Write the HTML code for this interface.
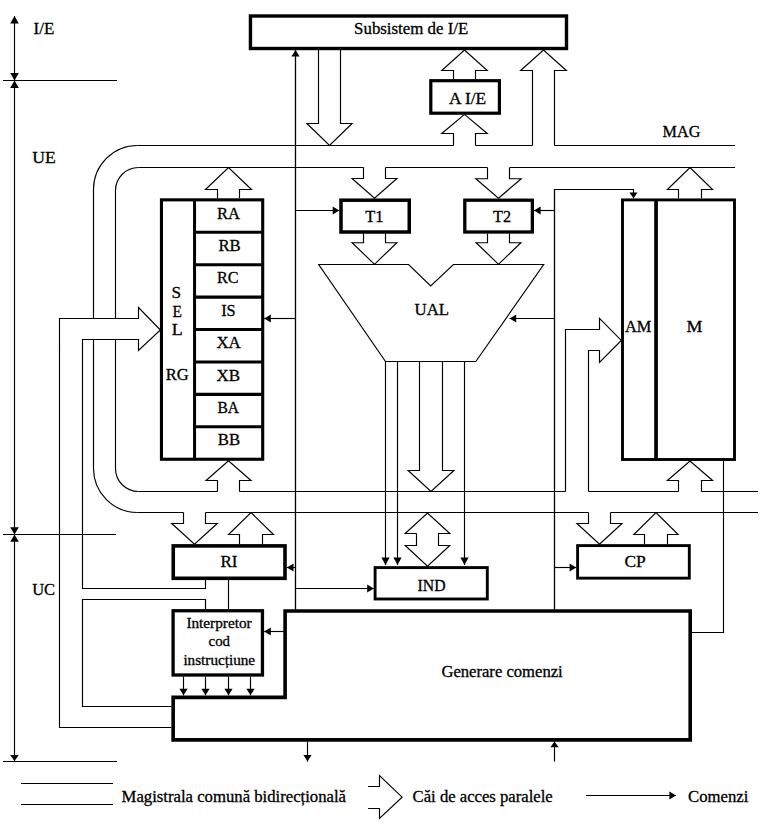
<!DOCTYPE html>
<html><head><meta charset="utf-8"><style>
html,body{margin:0;padding:0;background:#fff;}
svg{display:block;}
text{font-family:"Liberation Serif",serif;fill:#000;stroke:#000;stroke-width:0.3px;}
</style></head><body>
<svg width="766" height="826" viewBox="0 0 766 826">
<path d="M14.5,16 L14.5,761" fill="none" stroke="#000" stroke-width="1.15"/>
<polygon points="14.5,16 10.2,23.6 18.8,23.6" fill="#000"/>
<polygon points="14.5,80.5 10.2,73.1 18.8,73.1" fill="#000"/>
<polygon points="14.5,80.5 10.2,87.9 18.8,87.9" fill="#000"/>
<polygon points="14.5,534.5 10.2,527.3 18.8,527.3" fill="#000"/>
<polygon points="14.5,534.5 10.2,541.7 18.8,541.7" fill="#000"/>
<polygon points="14.5,761 10.2,755 18.8,755" fill="#000"/>
<path d="M3,80.5 L117,80.5" fill="none" stroke="#000" stroke-width="1.15"/>
<path d="M3,534.5 L116,534.5" fill="none" stroke="#000" stroke-width="1.15"/>
<path d="M3,761.5 L117,761.5" fill="none" stroke="#000" stroke-width="1.15"/>
<rect x="250.45" y="16" width="316.05" height="32.5" fill="none" stroke="#000" stroke-width="3.4"/>
<rect x="430.8" y="80.7" width="68.6" height="32.5" fill="none" stroke="#000" stroke-width="3.2"/>
<path d="M295.5,611 L295.5,50" fill="none" stroke="#000" stroke-width="1.15"/>
<polygon points="295.5,50 291.4,56.6 299.6,56.6" fill="#000"/>
<path d="M318.5,50 L318.5,123.5 L306.9,123.5 L329.5,145.5 L352.1,123.5 L340.5,123.5 L340.5,50" fill="none" stroke="#000" stroke-width="1.15"/>
<path d="M453.5,79.2 L453.5,70.5 L441.75,70.5 L464.5,50 L487.25,70.5 L475.5,70.5 L475.5,79.2" fill="none" stroke="#000" stroke-width="1.15"/>
<path d="M453.5,145.5 L453.5,133.5 L441.75,133.5 L464.5,114.4 L487.25,133.5 L475.5,133.5 L475.5,145.5" fill="none" stroke="#000" stroke-width="1.15"/>
<path d="M532.5,145.5 L532.5,70.5 L520.65,70.5 L543.5,50 L566.35,70.5 L554.5,70.5 L554.5,145.5" fill="none" stroke="#000" stroke-width="1.15"/>
<path d="M137.5,145.5 L453.5,145.5" fill="none" stroke="#000" stroke-width="1.15"/>
<path d="M475.5,145.5 L532.5,145.5" fill="none" stroke="#000" stroke-width="1.15"/>
<path d="M554.5,145.5 L735,145.5" fill="none" stroke="#000" stroke-width="1.15"/>
<path d="M137.5,145.5 A44,44 0 0 0 93.5,189.5 L93.5,318.5" fill="none" stroke="#000" stroke-width="1.15"/>
<path d="M93.5,339.5 L93.5,468 A44,44 0 0 0 137.5,512.5" fill="none" stroke="#000" stroke-width="1.15"/>
<path d="M138.5,167.5 A23,23 0 0 0 115.5,190.5 L115.5,318.5" fill="none" stroke="#000" stroke-width="1.15"/>
<path d="M115.5,339.5 L115.5,468.5 A23,23 0 0 0 138.5,491.5" fill="none" stroke="#000" stroke-width="1.15"/>
<path d="M138.5,167.5 L363.5,167.5" fill="none" stroke="#000" stroke-width="1.15"/>
<path d="M385.5,167.5 L487.5,167.5" fill="none" stroke="#000" stroke-width="1.15"/>
<path d="M509.5,167.5 L735,167.5" fill="none" stroke="#000" stroke-width="1.15"/>
<path d="M217.5,198.2 L217.5,189.5 L205.5,189.5 L228.5,167.5 L251.5,189.5 L239.5,189.5 L239.5,198.2" fill="none" stroke="#000" stroke-width="1.15"/>
<path d="M363.5,167.5 L363.5,178.5 L352.1,178.5 L374.5,198.3 L396.9,178.5 L385.5,178.5 L385.5,167.5" fill="none" stroke="#000" stroke-width="1.15"/>
<path d="M487.5,167.5 L487.5,178.7 L475.8,178.7 L498.5,198.3 L521.2,178.7 L509.5,178.7 L509.5,167.5" fill="none" stroke="#000" stroke-width="1.15"/>
<path d="M678.5,198.2 L678.5,189.5 L667.4,189.5 L690,167.5 L712.6,189.5 L701.5,189.5 L701.5,198.2" fill="none" stroke="#000" stroke-width="1.15"/>
<rect x="161.45" y="199.85" width="101.25" height="259.4" fill="none" stroke="#000" stroke-width="3.1"/>
<path d="M194.55,199.85 L194.55,459.25" fill="none" stroke="#000" stroke-width="3"/>
<path d="M194.55,232.27 L262.7,232.27" fill="none" stroke="#000" stroke-width="3.1"/>
<path d="M194.55,264.7 L262.7,264.7" fill="none" stroke="#000" stroke-width="3.1"/>
<path d="M194.55,297.12 L262.7,297.12" fill="none" stroke="#000" stroke-width="3.1"/>
<path d="M194.55,329.55 L262.7,329.55" fill="none" stroke="#000" stroke-width="3.1"/>
<path d="M194.55,361.98 L262.7,361.98" fill="none" stroke="#000" stroke-width="3.1"/>
<path d="M194.55,394.4 L262.7,394.4" fill="none" stroke="#000" stroke-width="3.1"/>
<path d="M194.55,426.82 L262.7,426.82" fill="none" stroke="#000" stroke-width="3.1"/>
<path d="M295.5,318.5 L264.2,318.5" fill="none" stroke="#000" stroke-width="1.15"/>
<polygon points="264.2,318.5 270.8,314.4 270.8,322.6" fill="#000"/>
<path d="M295.5,210.5 L339.3,210.5" fill="none" stroke="#000" stroke-width="1.15"/>
<polygon points="339.3,210.5 332.7,206.4 332.7,214.6" fill="#000"/>
<rect x="341" y="200.2" width="68.25" height="31.8" fill="none" stroke="#000" stroke-width="3.5"/>
<rect x="464.8" y="200.2" width="67.55" height="31.8" fill="none" stroke="#000" stroke-width="3.3"/>
<path d="M363.5,233.6 L363.5,242.7 L352.1,242.7 L374.5,264.3 L396.9,242.7 L385.5,242.7 L385.5,233.6" fill="none" stroke="#000" stroke-width="1.15"/>
<path d="M487.5,233.6 L487.5,242.7 L476.1,242.7 L498.5,264.3 L520.9,242.7 L509.5,242.7 L509.5,233.6" fill="none" stroke="#000" stroke-width="1.15"/>
<path d="M554.5,611 L554.5,189.5 L633.5,189.5 L633.5,198.2" fill="none" stroke="#000" stroke-width="1.15"/>
<polygon points="633.5,198.2 629.4,192.4 637.6,192.4" fill="#000"/>
<path d="M554.5,210.5 L534,210.5" fill="none" stroke="#000" stroke-width="1.15"/>
<polygon points="534,210.5 540.6,206.4 540.6,214.6" fill="#000"/>
<path d="M554.5,318.5 L509.6,318.5" fill="none" stroke="#000" stroke-width="1.15"/>
<polygon points="509.6,318.5 516.2,314.4 516.2,322.6" fill="#000"/>
<path d="M318.7,264.5 L408.6,264.5 L430.7,285.9 L453.4,264.5 L543.7,264.5 L475.8,361.5 L385.5,361.5 Z" fill="none" stroke="#000" stroke-width="1.15"/>
<path d="M385.5,361.5 L385.5,565" fill="none" stroke="#000" stroke-width="1.15"/>
<polygon points="385.5,565 381.4,557.5 389.6,557.5" fill="#000"/>
<path d="M397.5,361.5 L397.5,565" fill="none" stroke="#000" stroke-width="1.15"/>
<polygon points="397.5,565 393.4,557.5 401.6,557.5" fill="#000"/>
<path d="M464.5,361.5 L464.5,565" fill="none" stroke="#000" stroke-width="1.15"/>
<polygon points="464.5,565 460.4,557.5 468.6,557.5" fill="#000"/>
<path d="M419.5,361.5 L419.5,470.5 L408.1,470.5 L431,491.5 L453.9,470.5 L442.5,470.5 L442.5,361.5" fill="none" stroke="#000" stroke-width="1.15"/>
<rect x="622.5" y="199.9" width="112.0" height="259.6" fill="none" stroke="#000" stroke-width="2.9"/>
<path d="M656.05,199.9 L656.05,459.5" fill="none" stroke="#000" stroke-width="3.7"/>
<path d="M565.5,491.5 L565.5,329.5 L599.5,329.5 L599.5,318.3 L621.3,340.4 L599.5,362.4 L599.5,350.5 L588.5,350.5 L588.5,491.5" fill="none" stroke="#000" stroke-width="1.15"/>
<path d="M678.5,491.5 L678.5,480.5 L667.4,480.5 L690,461 L712.6,480.5 L701.5,480.5 L701.5,491.5" fill="none" stroke="#000" stroke-width="1.15"/>
<path d="M723.5,461 L723.5,632.5 L691.8,632.5" fill="none" stroke="#000" stroke-width="1.15"/>
<path d="M138.5,491.5 L217.5,491.5" fill="none" stroke="#000" stroke-width="1.15"/>
<path d="M239.5,491.5 L565.5,491.5" fill="none" stroke="#000" stroke-width="1.15"/>
<path d="M588.5,491.5 L678.5,491.5" fill="none" stroke="#000" stroke-width="1.15"/>
<path d="M701.5,491.5 L758,491.5" fill="none" stroke="#000" stroke-width="1.15"/>
<path d="M217.5,491.5 L217.5,480.5 L206.05,480.5 L228.5,460.8 L250.95,480.5 L239.5,480.5 L239.5,491.5" fill="none" stroke="#000" stroke-width="1.15"/>
<path d="M137.5,512.5 L183.5,512.5" fill="none" stroke="#000" stroke-width="1.15"/>
<path d="M205.5,512.5 L588.5,512.5" fill="none" stroke="#000" stroke-width="1.15"/>
<path d="M610.5,512.5 L758,512.5" fill="none" stroke="#000" stroke-width="1.15"/>
<path d="M183.5,512.5 L183.5,523.5 L171.75,523.5 L194.5,544.2 L217.25,523.5 L205.5,523.5 L205.5,512.5" fill="none" stroke="#000" stroke-width="1.15"/>
<path d="M239.5,544.2 L239.5,534.5 L228.55,534.5 L251,512.5 L273.45,534.5 L262.5,534.5 L262.5,544.2" fill="none" stroke="#000" stroke-width="1.15"/>
<path d="M588.5,512.5 L588.5,523.5 L576.95,523.5 L599.5,544.2 L622.05,523.5 L610.5,523.5 L610.5,512.5" fill="none" stroke="#000" stroke-width="1.15"/>
<path d="M644.5,544.2 L644.5,534.5 L633.9,534.5 L656,512.5 L678.1,534.5 L667.5,534.5 L667.5,544.2" fill="none" stroke="#000" stroke-width="1.15"/>
<path d="M416.5,533.5 L405.2,533.5 L427.5,513 L449.8,533.5 L438.5,533.5 L438.5,545.5 L449.8,545.5 L427.5,566.2 L405.2,545.5 L416.5,545.5 L416.5,533.5" fill="none" stroke="#000" stroke-width="1.15"/>
<rect x="173.25" y="545.9" width="111.75" height="32.4" fill="none" stroke="#000" stroke-width="3.6"/>
<path d="M295.5,567.5 L286.9,567.5" fill="none" stroke="#000" stroke-width="1.15"/>
<polygon points="286.9,567.5 293.5,563.4 293.5,571.6" fill="#000"/>
<path d="M205.5,580 L205.5,588.5 L82.5,588.5 L82.5,339.5 L138.5,339.5 L138.5,350.5 L160.4,330 L138.5,307.5 L138.5,318.5 L59.5,318.5 L59.5,727.5 L171.5,727.5" fill="none" stroke="#000" stroke-width="1.15"/>
<path d="M228.5,580 L228.5,609.3" fill="none" stroke="#000" stroke-width="1.15"/>
<path d="M205.5,609.3 L205.5,599.5 L82.5,599.5 L82.5,706.5 L171.5,706.5" fill="none" stroke="#000" stroke-width="1.15"/>
<rect x="375.1" y="567.6" width="112.2" height="31.4" fill="none" stroke="#000" stroke-width="2.9"/>
<path d="M295.5,588.5 L373.8,588.5" fill="none" stroke="#000" stroke-width="1.15"/>
<polygon points="373.8,588.5 367.2,584.4 367.2,592.6" fill="#000"/>
<rect x="173.1" y="610.75" width="89.35" height="64.25" fill="none" stroke="#000" stroke-width="3.3"/>
<path d="M285,631.5 L264.2,631.5" fill="none" stroke="#000" stroke-width="1.15"/>
<polygon points="264.2,631.5 270.8,627.4 270.8,635.6" fill="#000"/>
<path d="M183.5,676.6 L183.5,695.3" fill="none" stroke="#000" stroke-width="1.15"/>
<polygon points="183.5,695.3 179.4,688.7 187.6,688.7" fill="#000"/>
<path d="M205.5,676.6 L205.5,695.3" fill="none" stroke="#000" stroke-width="1.15"/>
<polygon points="205.5,695.3 201.4,688.7 209.6,688.7" fill="#000"/>
<path d="M228.5,676.6 L228.5,695.3" fill="none" stroke="#000" stroke-width="1.15"/>
<polygon points="228.5,695.3 224.4,688.7 232.6,688.7" fill="#000"/>
<path d="M250.5,676.6 L250.5,695.3" fill="none" stroke="#000" stroke-width="1.15"/>
<polygon points="250.5,695.3 246.4,688.7 254.6,688.7" fill="#000"/>
<path d="M173.15,697.35 L285.1,697.35 L285.1,611 L690.2,611 L690.2,739.85 L173.15,739.85 Z" fill="none" stroke="#000" stroke-width="3.6"/>
<path d="M295.5,48 L295.5,609.3" fill="none" stroke="#000" stroke-width="1.15"/>
<path d="M554.5,189.5 L554.5,609.3" fill="none" stroke="#000" stroke-width="1.15"/>
<path d="M307.5,741.6 L307.5,761.6" fill="none" stroke="#000" stroke-width="1.15"/>
<polygon points="307.5,761.6 303.4,755.1 311.6,755.1" fill="#000"/>
<path d="M554.5,761.6 L554.5,741.6" fill="none" stroke="#000" stroke-width="1.15"/>
<polygon points="554.5,741.6 550.4,747.2 558.6,747.2" fill="#000"/>
<path d="M554.5,567.5 L576.2,567.5" fill="none" stroke="#000" stroke-width="1.15"/>
<polygon points="576.2,567.5 569.6,563.4 569.6,571.6" fill="#000"/>
<rect x="577.6" y="545.6" width="111.7" height="32.55" fill="none" stroke="#000" stroke-width="2.9"/>
<path d="M21,783.5 L113,783.5" fill="none" stroke="#000" stroke-width="1.15"/>
<path d="M21,804.5 L113,804.5" fill="none" stroke="#000" stroke-width="1.15"/>
<path d="M368.1,786.5 L379.5,786.5 L379.5,775.6 L402.1,797.2 L379.5,818.4 L379.5,808.5 L368.1,808.5" fill="none" stroke="#000" stroke-width="1.15"/>
<path d="M586,795.5 L676,795.5" fill="none" stroke="#000" stroke-width="1.15"/>
<polygon points="676,795.5 669.4,791.4 669.4,799.6" fill="#000"/>
<text id="t_ie" x="33.60" y="33.70" font-size="16" textLength="20.65" lengthAdjust="spacingAndGlyphs">I/E</text>
<text id="t_ue" x="32.20" y="162.60" font-size="16" textLength="23.44" lengthAdjust="spacingAndGlyphs">UE</text>
<text id="t_uc" x="32.20" y="594.70" font-size="16" textLength="22.90" lengthAdjust="spacingAndGlyphs">UC</text>
<text id="t_sub" x="354.10" y="34.20" font-size="16" textLength="114.19" lengthAdjust="spacingAndGlyphs">Subsistem de I/E</text>
<text id="t_aie" x="449.00" y="103.50" font-size="16" textLength="37.12" lengthAdjust="spacingAndGlyphs">A I/E</text>
<text id="t_mag" x="662.60" y="136.90" font-size="16" textLength="37.74" lengthAdjust="spacingAndGlyphs">MAG</text>
<text id="t_ra" x="217.00" y="219.20" font-size="16" textLength="23.03" lengthAdjust="spacingAndGlyphs">RA</text>
<text id="t_rb" x="218.40" y="251.20" font-size="16" textLength="22.23" lengthAdjust="spacingAndGlyphs">RB</text>
<text id="t_rc" x="217.00" y="283.40" font-size="16" textLength="21.57" lengthAdjust="spacingAndGlyphs">RC</text>
<text id="t_is" x="221.20" y="316.20" font-size="16" textLength="14.48" lengthAdjust="spacingAndGlyphs">IS</text>
<text id="t_xa" x="216.40" y="348.40" font-size="16" textLength="24.41" lengthAdjust="spacingAndGlyphs">XA</text>
<text id="t_xb" x="216.40" y="380.50" font-size="16" textLength="23.57" lengthAdjust="spacingAndGlyphs">XB</text>
<text id="t_ba" x="217.40" y="412.70" font-size="16" textLength="21.57" lengthAdjust="spacingAndGlyphs">BA</text>
<text id="t_bb" x="217.80" y="445.20" font-size="16" textLength="22.34" lengthAdjust="spacingAndGlyphs">BB</text>
<text id="t_s" x="171.60" y="298.40" font-size="16" textLength="9.53" lengthAdjust="spacingAndGlyphs">S</text>
<text id="t_e" x="172.60" y="316.50" font-size="16" textLength="9.41" lengthAdjust="spacingAndGlyphs">E</text>
<text id="t_l" x="171.80" y="334.80" font-size="16" textLength="11.00" lengthAdjust="spacingAndGlyphs">L</text>
<text id="t_rg" x="165.80" y="379.50" font-size="16" textLength="23.01" lengthAdjust="spacingAndGlyphs">RG</text>
<text id="t_t1" x="365.20" y="221.90" font-size="16" textLength="18.18" lengthAdjust="spacingAndGlyphs">T1</text>
<text id="t_t2" x="493.00" y="221.90" font-size="16" textLength="17.98" lengthAdjust="spacingAndGlyphs">T2</text>
<text id="t_ual" x="414.60" y="314.90" font-size="16" textLength="34.49" lengthAdjust="spacingAndGlyphs">UAL</text>
<text id="t_am" x="625.00" y="331.80" font-size="16" textLength="26.38" lengthAdjust="spacingAndGlyphs">AM</text>
<text id="t_m" x="686.60" y="331.80" font-size="16" textLength="15.90" lengthAdjust="spacingAndGlyphs">M</text>
<text id="t_ri" x="220.40" y="566.80" font-size="16" textLength="17.00" lengthAdjust="spacingAndGlyphs">RI</text>
<text id="t_ind" x="417.60" y="590.70" font-size="16" textLength="28.06" lengthAdjust="spacingAndGlyphs">IND</text>
<text id="t_cp" x="624.40" y="567.00" font-size="16" textLength="21.28" lengthAdjust="spacingAndGlyphs">CP</text>
<text id="t_int" x="186.40" y="627.50" font-size="14.5" textLength="65.20" lengthAdjust="spacingAndGlyphs">Interpretor</text>
<text id="t_cod" x="208.60" y="645.80" font-size="14.5" textLength="21.44" lengthAdjust="spacingAndGlyphs">cod</text>
<text id="t_ins" x="183.40" y="664.80" font-size="14.5" textLength="71.72" lengthAdjust="spacingAndGlyphs">instrucțiune</text>
<text id="t_gen" x="441.40" y="676.50" font-size="16" textLength="121.31" lengthAdjust="spacingAndGlyphs">Generare comenzi</text>
<text id="t_mcb" x="121.60" y="801.50" font-size="16" textLength="224.43" lengthAdjust="spacingAndGlyphs">Magistrala comună bidirecțională</text>
<text id="t_cai" x="412.60" y="801.90" font-size="16" textLength="140.13" lengthAdjust="spacingAndGlyphs">Căi de acces paralele</text>
<text id="t_com" x="688.00" y="801.60" font-size="16" textLength="60.27" lengthAdjust="spacingAndGlyphs">Comenzi</text>
</svg>
</body></html>
